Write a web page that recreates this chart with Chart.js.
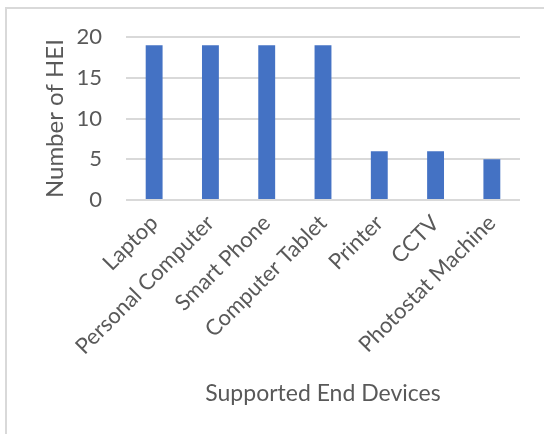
<!DOCTYPE html>
<html>
<head>
<meta charset="utf-8">
<script src="https://cdn.jsdelivr.net/npm/chart.js@4.4.0/dist/chart.umd.min.js"></script>
<style>
  html, body { margin: 0; padding: 0; background: #ffffff; overflow: hidden; }
  #wrap { position: relative; width: 544px; height: 434px; }
  #frame { position: absolute; left: 5px; top: 7px; width: 600px; height: 500px;
           border-left: 2px solid #d9d9d9; border-top: 2px solid #d9d9d9; }
  canvas { position: absolute; left: 0; top: 0; }
</style>
</head>
<body>
<div id="wrap">
  <div id="frame"></div>
  <canvas id="myChart" width="544" height="434"></canvas>
</div>
<script>
// chart data
var devices = ['Laptop', 'Personal Computer', 'Smart Phone', 'Computer Tablet', 'Printer', 'CCTV', 'Photostat Machine'];
var heiCounts = [19, 19, 19, 19, 6, 6, 5];
var yTicks = [0, 5, 10, 15, 20];

var labelFont = 'Lato, "Open Sans", sans-serif';
var textGrey = '#595959';

var ctx = document.getElementById('myChart').getContext('2d');
var myChart = new Chart(ctx, {
    type: 'bar',
    data: {
        labels: devices,
        datasets: [{
            label: 'Number of HEI',
            data: heiCounts,
            backgroundColor: '#4472c4',
            borderWidth: 0,
            categoryPercentage: 1,
            barPercentage: 0.3
        }]
    },
    options: {
        responsive: false,
        animation: false,
        layout: {
            padding: { left: 41, top: 37, right: 24, bottom: 27 }
        },
        plugins: {
            legend: { display: false },
            tooltip: { enabled: false }
        },
        scales: {
            x: {
                grid: { display: false, drawTicks: false },
                border: { display: false },
                ticks: {
                    color: textGrey,
                    font: { family: labelFont, size: 22 },
                    minRotation: 45,
                    maxRotation: 45,
                    padding: 10
                },
                title: {
                    display: true,
                    text: 'Supported End Devices',
                    color: textGrey,
                    font: { family: labelFont, size: 23 },
                    padding: 0
                },
                afterFit: function (axis) { axis.height = 207; }
            },
            y: {
                min: 0,
                max: 20,
                afterBuildTicks: function (axis) {
                    axis.ticks = yTicks.map(function (v) { return { value: v }; });
                },
                grid: { color: '#d9d9d9', lineWidth: 2, drawTicks: false },
                border: { display: false },
                ticks: {
                    color: textGrey,
                    font: { family: labelFont, size: 22 },
                    padding: 24
                },
                title: {
                    display: true,
                    text: 'Number of HEI',
                    color: textGrey,
                    font: { family: labelFont, size: 24 },
                    padding: 0
                },
                afterFit: function (axis) { axis.width = 85; }
            }
        }
    }
});
</script>
</body>
</html>
